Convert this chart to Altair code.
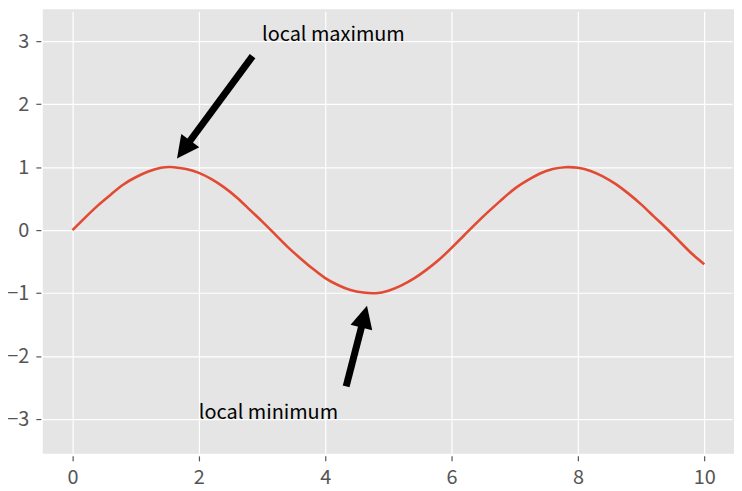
import math
import altair as alt
import pandas as pd

# --- data ---
x_vals = [0.0, 0.2, 0.4, 0.6, 0.8, 1.0, 1.2, 1.4, 1.6, 1.8,
          2.0, 2.2, 2.4, 2.6, 2.8, 3.0, 3.2, 3.4, 3.6, 3.8,
          4.0, 4.2, 4.4, 4.6, 4.8, 5.0, 5.2, 5.4, 5.6, 5.8,
          6.0, 6.2, 6.4, 6.6, 6.8, 7.0, 7.2, 7.4, 7.6, 7.8,
          8.0, 8.2, 8.4, 8.6, 8.8, 9.0, 9.2, 9.4, 9.6, 9.8, 10.0]
y_vals = [0.00, 0.20, 0.39, 0.56, 0.72, 0.84, 0.93, 0.99, 1.00, 0.97,
          0.91, 0.81, 0.68, 0.52, 0.33, 0.14, -0.06, -0.26, -0.44, -0.61,
          -0.76, -0.87, -0.95, -0.99, -1.00, -0.96, -0.88, -0.77, -0.63, -0.47,
          -0.28, -0.08, 0.12, 0.31, 0.49, 0.66, 0.79, 0.90, 0.97, 1.00,
          0.99, 0.94, 0.85, 0.73, 0.58, 0.41, 0.22, 0.03, -0.17, -0.37, -0.54]

ann_labels = ["local maximum", "local minimum"]
ann_text_x = [3.0, 2.0]
ann_text_y = [3.0, -3.0]
tip_x = [1.654, 4.661]
tip_y = [1.137, -1.200]
tail_x = [2.850, 4.331]
tail_y = [2.763, -2.479]

x_ticks = [0, 2, 4, 6, 8, 10]
y_ticks = [-3, -2, -1, 0, 1, 2, 3]

# --- layout / style ---
W, H = 695, 447
XD = [-0.47, 10.47]
YD = [-3.55, 3.505]
FONT = "Noto Sans CJK JP"
HEAD = 22.5
px_x = W / (XD[1] - XD[0])
px_y = H / (YD[1] - YD[0])

line_df = pd.DataFrame({"x": x_vals, "y": y_vals})
text_df = pd.DataFrame({"label": ann_labels, "x": ann_text_x, "y": ann_text_y})

rows = []
for tx, ty, sx, sy in zip(tip_x, tip_y, tail_x, tail_y):
    dx = (tx - sx) * px_x
    dy = -(ty - sy) * px_y
    L = math.hypot(dx, dy)
    ux, uy = dx / L, dy / L
    cx = tx - ux * HEAD / 2 / px_x
    cy = ty + uy * HEAD / 2 / px_y
    ang = math.degrees(math.atan2(dx, -dy)) % 360
    rows.append({"sx": sx, "sy": sy, "cx": cx, "cy": cy, "angle": ang})
arrow_df = pd.DataFrame(rows)

xs = alt.Scale(domain=XD, nice=False, zero=False)
ys = alt.Scale(domain=YD, nice=False, zero=False)

line = alt.Chart(line_df).mark_line(color="#E24A33", strokeWidth=2.6, interpolate="natural").encode(
    x=alt.X("x:Q", scale=xs, axis=alt.Axis(values=x_ticks, title=None, format="d")),
    y=alt.Y("y:Q", scale=ys, axis=alt.Axis(values=y_ticks, title=None, format="d")),
)

shaft = alt.Chart(arrow_df).mark_rule(color="black", strokeWidth=7, strokeCap="butt").encode(
    x=alt.X("sx:Q", scale=xs), y=alt.Y("sy:Q", scale=ys),
    x2="cx:Q", y2="cy:Q",
)

head = alt.Chart(arrow_df).mark_point(
    shape="M0,-1L-1,1L1,1Z", filled=True, color="black", opacity=1, size=HEAD * HEAD, strokeWidth=0
).encode(
    x=alt.X("cx:Q", scale=xs), y=alt.Y("cy:Q", scale=ys),
    angle=alt.Angle("angle:Q", scale=None),
)

texts = alt.Chart(text_df).mark_text(
    align="left", baseline="alphabetic", font=FONT, fontSize=20, color="black"
).encode(
    x=alt.X("x:Q", scale=xs), y=alt.Y("y:Q", scale=ys), text="label:N",
)

chart = alt.layer(line, shaft, head, texts).properties(
    width=W, height=H,
    autosize=alt.AutoSizeParams(type="none"),
    padding={"left": 35, "top": 0, "right": 0, "bottom": 36},
).configure_view(
    fill="#E5E5E5", stroke=None
).configure_axis(
    grid=True, gridColor="white", gridWidth=1.2, domain=False,
    tickColor="#555555", tickSize=5, tickWidth=1.2, offset=2,
    labelColor="#555555", labelFont=FONT, labelFontSize=20, labelPadding=7,
)

chart.save("out.html", embed_options={"renderer": "svg", "actions": False})
